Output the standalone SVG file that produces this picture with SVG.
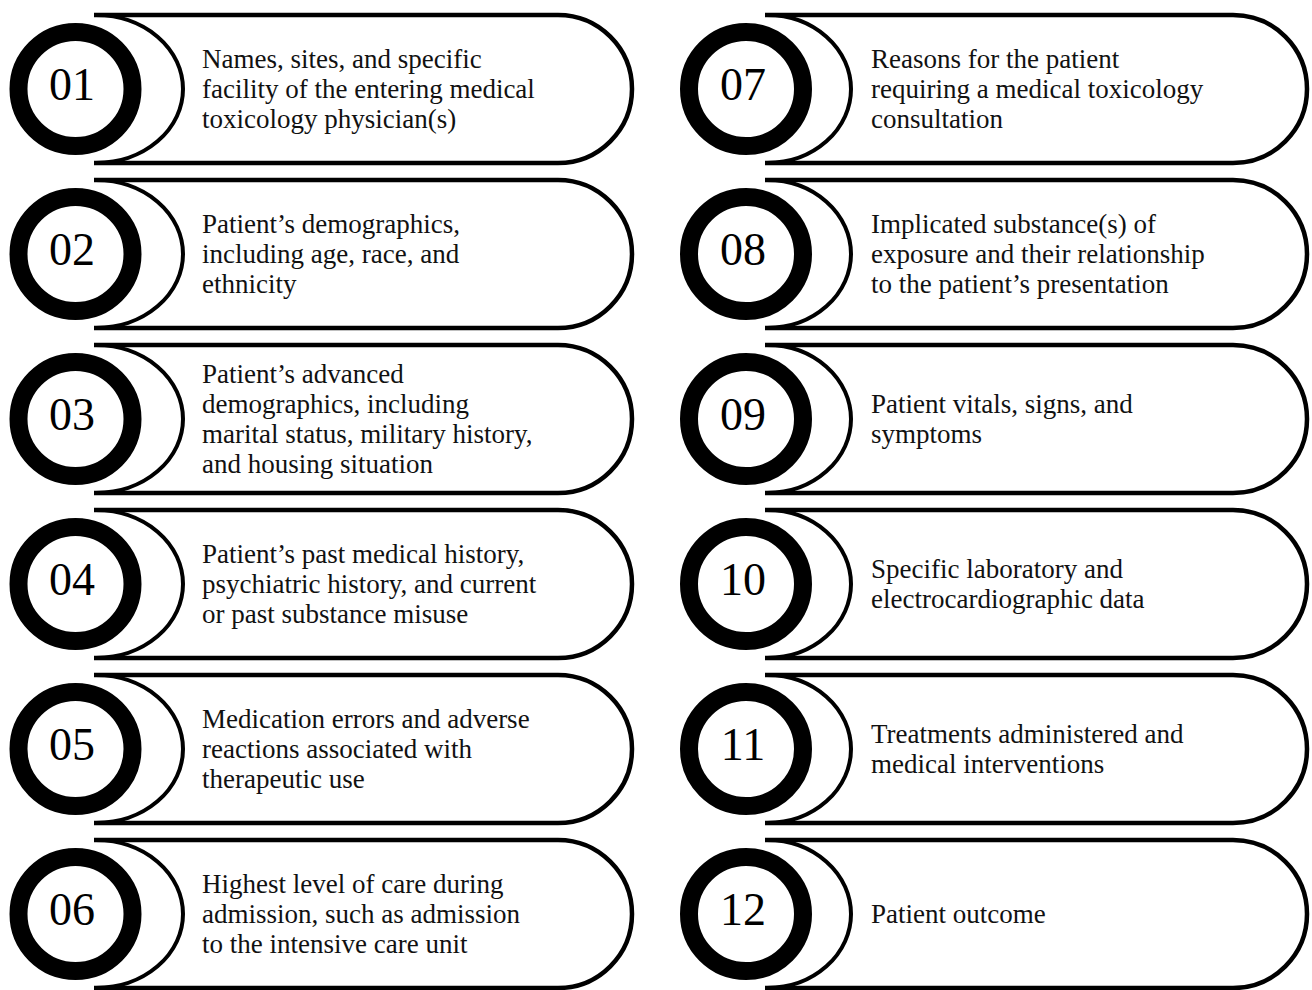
<svg xmlns="http://www.w3.org/2000/svg" width="1312" height="990" viewBox="0 0 1312 990">
<style>
.pill{fill:#fff;stroke:#000;stroke-width:4.5}
.arc{fill:none;stroke:#000;stroke-width:4}
.ring{fill:#fff;stroke:#000;stroke-width:18}
.num{font-family:"Liberation Serif","Times New Roman",serif;font-size:46px;fill:#000;text-anchor:middle}
.txt{font-family:"Liberation Serif","Times New Roman",serif;font-size:27px;fill:#111}
</style>
<rect width="1312" height="990" fill="#fff"/>
<g id="node-01" transform="translate(0,0)">
<path class="pill" d="M94 15 H558 A74 74 0 0 1 558 163 H94"/>
<path class="arc" d="M96 15 A87 74 0 0 1 96 163"/>
<circle class="ring" cx="75.5" cy="89" r="57"/>
<text class="num" x="72" y="100">01</text>
<text class="txt" x="202" y="68">Names, sites, and specific</text>
<text class="txt" x="202" y="98">facility of the entering medical</text>
<text class="txt" x="202" y="128">toxicology physician(s)</text>
</g>
<g id="node-02" transform="translate(0,165)">
<path class="pill" d="M94 15 H558 A74 74 0 0 1 558 163 H94"/>
<path class="arc" d="M96 15 A87 74 0 0 1 96 163"/>
<circle class="ring" cx="75.5" cy="89" r="57"/>
<text class="num" x="72" y="100">02</text>
<text class="txt" x="202" y="68">Patient’s demographics,</text>
<text class="txt" x="202" y="98">including age, race, and</text>
<text class="txt" x="202" y="128">ethnicity</text>
</g>
<g id="node-03" transform="translate(0,330)">
<path class="pill" d="M94 15 H558 A74 74 0 0 1 558 163 H94"/>
<path class="arc" d="M96 15 A87 74 0 0 1 96 163"/>
<circle class="ring" cx="75.5" cy="89" r="57"/>
<text class="num" x="72" y="100">03</text>
<text class="txt" x="202" y="53">Patient’s advanced</text>
<text class="txt" x="202" y="83">demographics, including</text>
<text class="txt" x="202" y="113">marital status, military history,</text>
<text class="txt" x="202" y="143">and housing situation</text>
</g>
<g id="node-04" transform="translate(0,495)">
<path class="pill" d="M94 15 H558 A74 74 0 0 1 558 163 H94"/>
<path class="arc" d="M96 15 A87 74 0 0 1 96 163"/>
<circle class="ring" cx="75.5" cy="89" r="57"/>
<text class="num" x="72" y="100">04</text>
<text class="txt" x="202" y="68">Patient’s past medical history,</text>
<text class="txt" x="202" y="98">psychiatric history, and current</text>
<text class="txt" x="202" y="128">or past substance misuse</text>
</g>
<g id="node-05" transform="translate(0,660)">
<path class="pill" d="M94 15 H558 A74 74 0 0 1 558 163 H94"/>
<path class="arc" d="M96 15 A87 74 0 0 1 96 163"/>
<circle class="ring" cx="75.5" cy="89" r="57"/>
<text class="num" x="72" y="100">05</text>
<text class="txt" x="202" y="68">Medication errors and adverse</text>
<text class="txt" x="202" y="98">reactions associated with</text>
<text class="txt" x="202" y="128">therapeutic use</text>
</g>
<g id="node-06" transform="translate(0,825)">
<path class="pill" d="M94 15 H558 A74 74 0 0 1 558 163 H94"/>
<path class="arc" d="M96 15 A87 74 0 0 1 96 163"/>
<circle class="ring" cx="75.5" cy="89" r="57"/>
<text class="num" x="72" y="100">06</text>
<text class="txt" x="202" y="68">Highest level of care during</text>
<text class="txt" x="202" y="98">admission, such as admission</text>
<text class="txt" x="202" y="128">to the intensive care unit</text>
</g>
<g id="node-07" transform="translate(0,0)">
<path class="pill" d="M765 15 H1233 A74 74 0 0 1 1233 163 H765"/>
<path class="arc" d="M767 15 A84 74 0 0 1 767 163"/>
<circle class="ring" cx="746" cy="89" r="57"/>
<text class="num" x="743" y="100">07</text>
<text class="txt" x="871" y="68">Reasons for the patient</text>
<text class="txt" x="871" y="98">requiring a medical toxicology</text>
<text class="txt" x="871" y="128">consultation</text>
</g>
<g id="node-08" transform="translate(0,165)">
<path class="pill" d="M765 15 H1233 A74 74 0 0 1 1233 163 H765"/>
<path class="arc" d="M767 15 A84 74 0 0 1 767 163"/>
<circle class="ring" cx="746" cy="89" r="57"/>
<text class="num" x="743" y="100">08</text>
<text class="txt" x="871" y="68">Implicated substance(s) of</text>
<text class="txt" x="871" y="98">exposure and their relationship</text>
<text class="txt" x="871" y="128">to the patient’s presentation</text>
</g>
<g id="node-09" transform="translate(0,330)">
<path class="pill" d="M765 15 H1233 A74 74 0 0 1 1233 163 H765"/>
<path class="arc" d="M767 15 A84 74 0 0 1 767 163"/>
<circle class="ring" cx="746" cy="89" r="57"/>
<text class="num" x="743" y="100">09</text>
<text class="txt" x="871" y="83">Patient vitals, signs, and</text>
<text class="txt" x="871" y="113">symptoms</text>
</g>
<g id="node-10" transform="translate(0,495)">
<path class="pill" d="M765 15 H1233 A74 74 0 0 1 1233 163 H765"/>
<path class="arc" d="M767 15 A84 74 0 0 1 767 163"/>
<circle class="ring" cx="746" cy="89" r="57"/>
<text class="num" x="743" y="100">10</text>
<text class="txt" x="871" y="83">Specific laboratory and</text>
<text class="txt" x="871" y="113">electrocardiographic data</text>
</g>
<g id="node-11" transform="translate(0,660)">
<path class="pill" d="M765 15 H1233 A74 74 0 0 1 1233 163 H765"/>
<path class="arc" d="M767 15 A84 74 0 0 1 767 163"/>
<circle class="ring" cx="746" cy="89" r="57"/>
<text class="num" x="743" y="100">11</text>
<text class="txt" x="871" y="83">Treatments administered and</text>
<text class="txt" x="871" y="113">medical interventions</text>
</g>
<g id="node-12" transform="translate(0,825)">
<path class="pill" d="M765 15 H1233 A74 74 0 0 1 1233 163 H765"/>
<path class="arc" d="M767 15 A84 74 0 0 1 767 163"/>
<circle class="ring" cx="746" cy="89" r="57"/>
<text class="num" x="743" y="100">12</text>
<text class="txt" x="871" y="98">Patient outcome</text>
</g>
</svg>
